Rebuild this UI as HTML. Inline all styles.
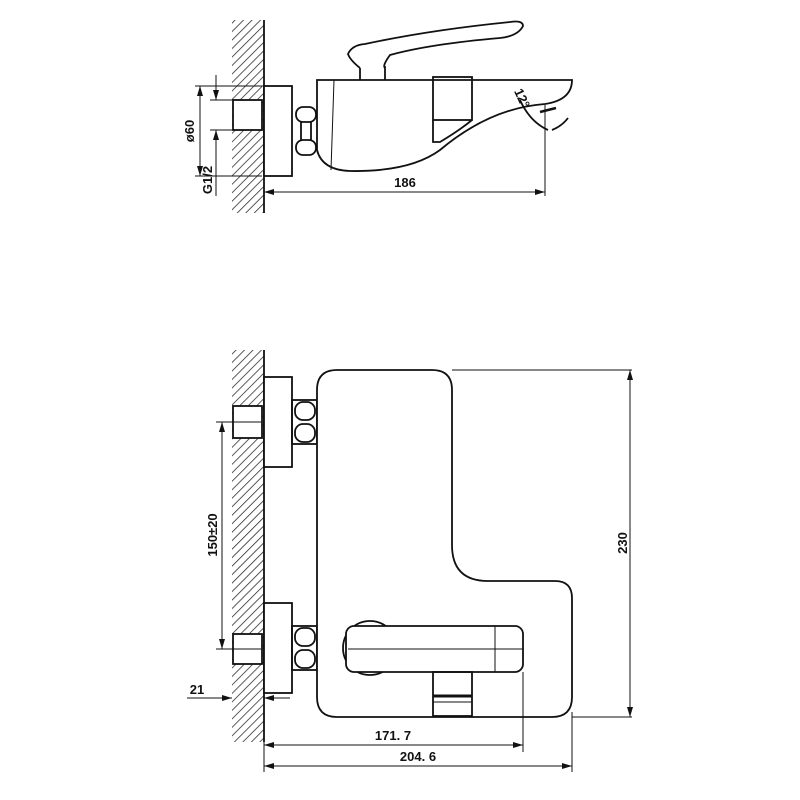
<!DOCTYPE html>
<html><head><meta charset="utf-8"><style>body{margin:0;background:#fff}svg{display:block}text{font-family:"Liberation Sans",sans-serif;font-weight:bold;font-size:13px;fill:#111}</style></head>
<body>
<svg width="800" height="800" viewBox="0 0 800 800" xmlns="http://www.w3.org/2000/svg">
<defs>
<pattern id="h" width="6" height="6" patternUnits="userSpaceOnUse" patternTransform="rotate(45)"><line x1="0" y1="0" x2="0" y2="6" stroke="#222" stroke-width="1.5"/></pattern>
<marker id="a" viewBox="0 0 10 6" refX="10" refY="3" markerWidth="10" markerHeight="6" orient="auto-start-reverse" markerUnits="userSpaceOnUse"><path d="M0,0L10,3L0,6z" fill="#111"/></marker>
</defs>
<g stroke="#111" fill="none" stroke-width="1.8">
<!-- TOP VIEW -->
<rect x="232" y="20" width="32" height="193" fill="url(#h)" stroke="none"/>
<line x1="264" y1="20" x2="264" y2="213"/>
<rect x="264" y="86" width="28" height="90" fill="#fff"/>
<rect x="233" y="100" width="29" height="30" fill="#fff"/>
<rect x="296" y="107" width="20" height="15" rx="7"/><rect x="296" y="140" width="20" height="15" rx="7"/>
<line x1="301" y1="122" x2="301" y2="140"/><line x1="311" y1="122" x2="311" y2="140"/>
<path d="M317,80 H572 Q572,100 545,104 Q490,108 440,150 Q410,172 350,171 Q322,170 317,150 Z" fill="#fff"/>
<line x1="334" y1="80" x2="331" y2="170" stroke-width="1"/>
<rect x="433" y="77" width="39" height="43"/>
<path d="M433,120 V142 L440,142 Q460,130 472,120"/>
<path d="M360,80 V67 H385 V80"/>
<path d="M360,68 Q350,60 348,54 Q352,45 365,44 Q430,30 510,22 Q523,20 523,26 Q518,36 500,38 Q430,44 390,55 Q382,66 385,68" fill="#fff"/>
<path d="M540,112 L556,108" stroke-width="2.5"/>
<path d="M520,100 Q530,122 548,130 M568,118 Q562,126 552,130"/>
<line x1="545" y1="105" x2="545" y2="196" stroke-width="1"/>
<line x1="264" y1="192" x2="545" y2="192" stroke-width="1" marker-start="url(#a)" marker-end="url(#a)"/>
<line x1="195" y1="86" x2="262" y2="86" stroke-width="1"/><line x1="195" y1="176" x2="262" y2="176" stroke-width="1"/>
<line x1="200" y1="86" x2="200" y2="176" stroke-width="1" marker-start="url(#a)" marker-end="url(#a)"/>
<line x1="210" y1="100" x2="233" y2="100" stroke-width="1"/><line x1="210" y1="130" x2="233" y2="130" stroke-width="1"/>
<line x1="216" y1="75" x2="216" y2="100" stroke-width="1" marker-end="url(#a)"/>
<line x1="216" y1="196" x2="216" y2="130" stroke-width="1" marker-end="url(#a)"/>
<!-- FRONT VIEW -->
<rect x="232" y="350" width="32" height="392" fill="url(#h)" stroke="none"/>
<line x1="264" y1="350" x2="264" y2="742"/>
<rect x="264" y="377" width="28" height="90" fill="#fff"/>
<rect x="264" y="603" width="28" height="90" fill="#fff"/>
<rect x="233" y="406" width="29" height="32" fill="#fff"/>
<rect x="233" y="634" width="29" height="30" fill="#fff"/>
<rect x="292" y="400" width="25" height="44"/><rect x="292" y="626" width="25" height="44"/>
<rect x="295" y="402" width="20" height="18" rx="8"/><rect x="295" y="424" width="20" height="18" rx="8"/>
<rect x="295" y="628" width="20" height="18" rx="8"/><rect x="295" y="650" width="20" height="18" rx="8"/>
<path d="M337,370 H432 Q452,370 452,390 V545 Q452,581 488,581 H555 Q572,581 572,598 V697 Q572,717 552,717 H337 Q317,717 317,697 V390 Q317,370 337,370 Z" fill="#fff"/>
<circle cx="370" cy="648" r="27"/>
<rect x="346" y="626" width="177" height="46" rx="8" fill="#fff"/>
<line x1="348" y1="649" x2="523" y2="649" stroke-width="1"/><line x1="495" y1="626" x2="495" y2="672" stroke-width="1"/>
<rect x="433" y="672" width="39" height="44"/>
<line x1="433" y1="696" x2="472" y2="696" stroke-width="3"/><line x1="433" y1="702" x2="472" y2="702" stroke-width="1"/>
<line x1="452" y1="370" x2="632" y2="370" stroke-width="1"/><line x1="572" y1="717" x2="632" y2="717" stroke-width="1"/>
<line x1="630" y1="370" x2="630" y2="717" stroke-width="1" marker-start="url(#a)" marker-end="url(#a)"/>
<line x1="216" y1="422" x2="262" y2="422" stroke-width="1"/><line x1="216" y1="649" x2="262" y2="649" stroke-width="1"/>
<line x1="222" y1="422" x2="222" y2="649" stroke-width="1" marker-start="url(#a)" marker-end="url(#a)"/>
<line x1="187" y1="698" x2="232" y2="698" stroke-width="1" marker-end="url(#a)"/>
<line x1="290" y1="698" x2="264" y2="698" stroke-width="1" marker-end="url(#a)"/>
<line x1="264" y1="742" x2="264" y2="772" stroke-width="1"/>
<line x1="523" y1="672" x2="523" y2="752" stroke-width="1"/><line x1="572" y1="712" x2="572" y2="772" stroke-width="1"/>
<line x1="264" y1="745" x2="523" y2="745" stroke-width="1" marker-start="url(#a)" marker-end="url(#a)"/>
<line x1="264" y1="766" x2="572" y2="766" stroke-width="1" marker-start="url(#a)" marker-end="url(#a)"/>
</g>
<text x="405" y="187" text-anchor="middle">186</text>
<text transform="translate(194,131) rotate(-90)" text-anchor="middle">ø60</text>
<text transform="translate(212,180) rotate(-90)" text-anchor="middle">G1/2</text>
<text transform="translate(518,100) rotate(65)" text-anchor="middle" font-size="12">12°</text>
<text transform="translate(217,535) rotate(-90)" text-anchor="middle">150±20</text>
<text transform="translate(627,543) rotate(-90)" text-anchor="middle">230</text>
<text x="197" y="694" text-anchor="middle">21</text>
<text x="393" y="740" text-anchor="middle">171. 7</text>
<text x="418" y="761" text-anchor="middle">204. 6</text>
</svg>
</body></html>
